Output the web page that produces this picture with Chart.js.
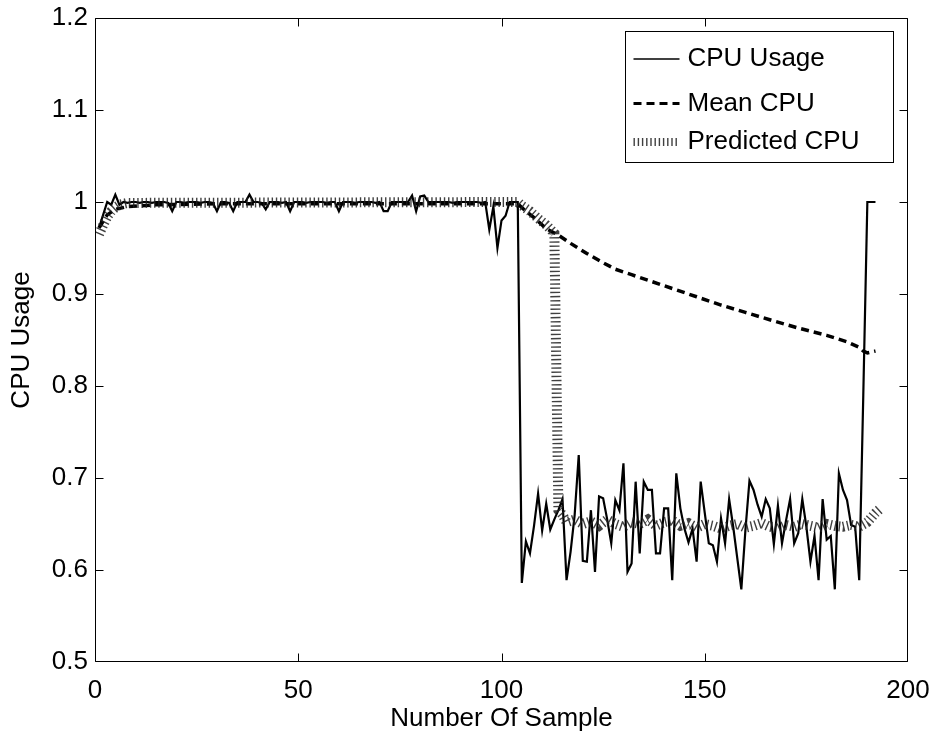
<!DOCTYPE html>
<html><head><meta charset="utf-8">
<script src="https://cdn.jsdelivr.net/npm/chart.js@4.4.0/dist/chart.umd.min.js"></script>
<style>html,body{margin:0;padding:0;background:#fff;}#wrap{width:937px;height:740px;}</style>
</head><body><div id="wrap"><canvas id="c" width="937" height="740"></canvas></div>
<script>
// CPU usage, one value per sample (sample 1..192)
const cpuUsage = [
0.972,0.986,1.0,0.997,1.008,0.997,1.0,0.999,1.0,1.0,
0.999,1.0,1.0,0.999,1.0,1.0,1.0,0.999,0.99,1.0,
1.0,0.999,1.0,1.0,1.0,0.999,1.0,1.0,0.999,0.99,
1.0,1.0,0.999,0.99,1.0,1.0,1.0,1.008,1.0,1.0,
0.999,0.992,1.0,1.0,1.0,0.999,1.0,0.99,1.0,1.0,
1.0,0.999,1.0,1.0,1.0,1.0,0.999,1.0,1.0,0.99,
1.0,1.0,1.0,0.999,1.0,1.0,1.0,1.0,0.999,1.0,
0.99,0.99,1.0,1.0,1.0,1.0,1.0,1.007,0.99,1.006,
1.007,1.0,1.0,1.0,1.0,1.0,1.0,0.999,1.0,1.0,
1.0,1.0,1.0,1.0,0.999,1.0,0.97,0.995,0.95,0.98,
0.985,1.0,1.0,1.0,0.586,0.631,0.618,0.648,0.683,0.643,
0.672,0.644,0.655,0.665,0.677,0.589,0.62,0.66,0.725,0.61,
0.609,0.665,0.598,0.68,0.678,0.655,0.629,0.676,0.665,0.716,
0.598,0.607,0.696,0.618,0.696,0.687,0.687,0.618,0.618,0.667,
0.667,0.589,0.705,0.667,0.645,0.63,0.645,0.609,0.696,0.662,
0.629,0.627,0.609,0.656,0.629,0.677,0.647,0.613,0.579,0.643,
0.697,0.687,0.671,0.658,0.677,0.667,0.628,0.67,0.629,0.654,
0.677,0.629,0.640,0.677,0.647,0.609,0.637,0.589,0.677,0.633,
0.637,0.579,0.705,0.687,0.676,0.649,0.647,0.589,0.79,1.0,
1.0,1.0
];
// Mean CPU, read at these samples
const meanSamples = [1,2,3,5,8,15,30,60,104,106,108,111,114,117,121,125,128,132,136,142,148,154,160,166,173,180,185,188,189,190,191,192];
const meanValues  = [0.972,0.979,0.986,0.992,0.995,0.997,0.998,0.998,0.998,0.99,0.983,0.971,0.964,0.955,0.944,0.934,0.927,0.921,0.915,0.906,0.897,0.888,0.88,0.872,0.863,0.855,0.848,0.842,0.838,0.836,0.837,0.838];
// Predicted CPU, read at these samples
const predSamples = [1,2,3,4,5,6,8,104,105,107,109,111,113,114,115,116,118,120,122,124,126,128,130,132,134,136,138,140,142,144,146,148,150,152,154,156,158,160,162,164,166,168,170,172,174,176,178,180,182,184,186,188,190,191,192,193];
const predValues  = [0.965,0.975,0.984,0.99,0.994,0.997,0.999,1.0,0.996,0.99,0.982,0.975,0.966,0.665,0.66,0.652,0.655,0.65,0.653,0.648,0.655,0.65,0.647,0.652,0.65,0.655,0.648,0.652,0.654,0.648,0.651,0.646,0.65,0.648,0.645,0.648,0.65,0.646,0.648,0.651,0.647,0.645,0.649,0.647,0.65,0.648,0.646,0.65,0.648,0.647,0.649,0.647,0.652,0.657,0.662,0.666];

const xTicks = [0,50,100,150,200];
const xTickLabels = ['0','50','100','150','200'];
const yTicks = [0.5,0.6,0.7,0.8,0.9,1.0,1.1,1.2];
const yTickLabels = ['0.5','0.6','0.7','0.8','0.9','1','1.1','1.2'];
const seriesNames = ['CPU Usage','Mean CPU','Predicted CPU'];
const xTitle = 'Number Of Sample';
const yTitle = 'CPU Usage';

const FONT = "'Liberation Sans', Arial, Helvetica, sans-serif";
const FS = 26;

const styles = [
  {color:'#000', width:2.2, dash:[]},
  {color:'#000', width:3.5, dash:[8,5]},
  {color:'rgba(30,30,30,0.85)', width:10, dash:[1.4,2.8]}
];

const cpuData = cpuUsage.map((v,i)=>({x:i+1,y:v}));
const meanData = meanSamples.map((s,i)=>({x:s,y:meanValues[i]}));
const predData = predSamples.map((s,i)=>({x:s,y:predValues[i]}));

const frameAndTicks = {
  id:'frameAndTicks',
  afterDraw(chart){
    const ctx = chart.ctx, ca = chart.chartArea;
    const xs = chart.scales.x, ys = chart.scales.y;
    ctx.save();
    ctx.strokeStyle = '#000';
    ctx.lineWidth = 1;
    ctx.setLineDash([]);
    const L = Math.round(ca.left)+0.5, R = Math.round(ca.right)-0.5, T = Math.round(ca.top)+0.5, B = Math.round(ca.bottom)-0.5;
    ctx.beginPath();
    ctx.rect(L, T, R-L, B-T);
    ctx.stroke();
    const tl = 8;
    const clamp = (v,a,b)=>Math.min(Math.max(v,a),b);
    ctx.beginPath();
    xTicks.forEach(v=>{
      const px = clamp(Math.round(xs.getPixelForValue(v))+0.5, L, R);
      ctx.moveTo(px,B); ctx.lineTo(px,B-tl);
      ctx.moveTo(px,T); ctx.lineTo(px,T+tl);
    });
    yTicks.forEach(v=>{
      const py = clamp(Math.round(ys.getPixelForValue(v))+0.5, T, B);
      ctx.moveTo(L,py); ctx.lineTo(L+tl,py);
      ctx.moveTo(R,py); ctx.lineTo(R-tl,py);
    });
    ctx.stroke();

    // legend
    const bx = Math.round(ca.right-283)+0.5, by = Math.round(ca.top+13)+0.5, bw = 268, bh = 131;
    ctx.fillStyle = '#fff';
    ctx.fillRect(bx,by,bw,bh);
    ctx.strokeStyle = '#000'; ctx.lineWidth = 1;
    ctx.strokeRect(bx,by,bw,bh);
    const rows = [ca.top+41, ca.top+85.5, ca.top+124];
    ctx.font = FS+'px '+FONT;
    ctx.textBaseline = 'middle';
    ctx.textAlign = 'left';
    seriesNames.forEach((name,i)=>{
      const st = styles[i];
      const y = rows[i];
      ctx.save();
      ctx.strokeStyle = st.color;
      ctx.lineWidth = i===2 ? 8 : (i===1 ? 3 : 1.5);
      ctx.setLineDash(st.dash);
      ctx.lineCap = 'butt';
      ctx.beginPath();
      ctx.moveTo(bx+8, y); ctx.lineTo(bx+54, y);
      ctx.stroke();
      ctx.restore();
      ctx.fillStyle = '#000';
      ctx.fillText(name, bx+62, y);
    });
    ctx.restore();
  }
};

new Chart(document.getElementById('c'), {
  type:'line',
  data:{
    datasets:[
      {label:seriesNames[0], data:cpuData, borderColor:styles[0].color, borderWidth:styles[0].width, borderDash:styles[0].dash, pointRadius:0, tension:0, order:2},
      {label:seriesNames[1], data:meanData, borderColor:styles[1].color, borderWidth:styles[1].width, borderDash:styles[1].dash, pointRadius:0, tension:0, order:1},
      {label:seriesNames[2], data:predData, borderColor:styles[2].color, borderWidth:styles[2].width, borderDash:styles[2].dash, borderCapStyle:'butt', pointRadius:0, tension:0, order:0}
    ]
  },
  options:{
    responsive:false,
    animation:false,
    devicePixelRatio:1,
    layout:{padding:{top:18,right:29,left:0,bottom:0}, autoPadding:false},
    plugins:{legend:{display:false}, tooltip:{enabled:false}},
    scales:{
      x:{
        type:'linear', min:0, max:200,
        grid:{display:false, drawTicks:false},
        border:{display:false},
        afterBuildTicks(s){ s.ticks = xTicks.map(v=>({value:v})); },
        afterFit(s){ s.height = 78; s.paddingLeft = 0; s.paddingRight = 0; s.paddingTop = 0; s.paddingBottom = 0; },
        ticks:{color:'#000', padding:13, maxRotation:0, autoSkip:false, font:{family:FONT,size:FS},
          callback:(v)=>xTickLabels[xTicks.indexOf(v)]},
        title:{display:true, text:xTitle, color:'#000', font:{family:FONT,size:FS}, padding:{top:0,bottom:6}}
      },
      y:{
        type:'linear', min:0.5, max:1.2,
        grid:{display:false, drawTicks:false},
        border:{display:false},
        afterBuildTicks(s){ s.ticks = yTicks.map(v=>({value:v})); },
        afterFit(s){ s.width = 95; s.paddingLeft = 0; s.paddingRight = 0; s.paddingTop = 0; s.paddingBottom = 0; },
        ticks:{color:'#000', padding:7, autoSkip:false, font:{family:FONT,size:FS},
          callback:(v)=>{ const i = yTicks.findIndex(t=>Math.abs(t-v)<1e-9); return i>=0?yTickLabels[i]:''; }},
        title:{display:true, text:yTitle, color:'#000', font:{family:FONT,size:FS}, padding:{top:6,bottom:0}}
      }
    }
  },
  plugins:[frameAndTicks]
});
</script>
</body></html>
